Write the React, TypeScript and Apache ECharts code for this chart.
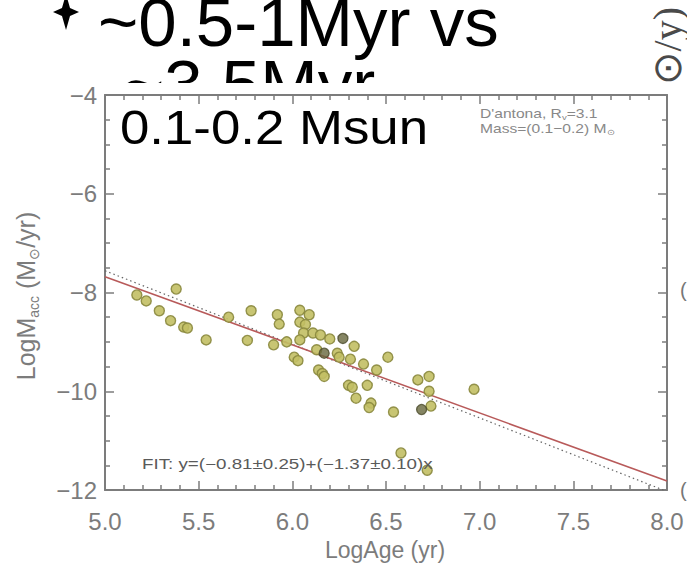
import React, { useEffect, useRef } from 'react';
import * as echarts from 'echarts';

// ---- data ----
const logAge = [5.17, 5.22, 5.38, 5.29, 5.35, 5.42, 5.44, 5.54, 5.66, 5.78, 5.76, 5.92, 5.93, 5.90, 5.97, 6.04, 6.09, 6.04, 6.07, 6.06, 6.11, 6.15, 6.04, 6.20, 6.33, 6.13, 6.24, 6.25, 6.31, 6.38, 6.45, 6.01, 6.03, 6.14, 6.16, 6.17, 6.30, 6.32, 6.40, 6.34, 6.42, 6.41, 6.51, 6.54, 6.67, 6.73, 6.73, 6.74, 6.97, 6.72, 6.58];
const logMacc = [-8.05, -8.17, -7.93, -8.37, -8.57, -8.70, -8.72, -8.96, -8.50, -8.37, -8.97, -8.45, -8.64, -9.06, -9.00, -8.36, -8.45, -8.60, -8.65, -8.82, -8.82, -8.86, -8.96, -8.94, -9.09, -9.16, -9.23, -9.31, -9.35, -9.45, -9.57, -9.31, -9.38, -9.57, -9.64, -9.70, -9.88, -9.92, -9.88, -10.14, -10.24, -10.33, -9.31, -10.42, -9.77, -9.70, -10.00, -10.30, -9.96, -11.60, -11.25];
const darkAge = [6.27, 6.17, 6.69];
const darkMacc = [-8.93, -9.23, -10.37];
const fitX = [5.0, 8.0];
const fitY = [-7.68, -11.82];
const refX = [5.0, 8.0];
const refY = [-7.56, -12.03];
const xTickLabels = ['5.0', '5.5', '6.0', '6.5', '7.0', '7.5', '8.0'];
const yTickLabels = ['−12', '−10', '−8', '−6', '−4'];

const AXIS = '#7c7c7c';
const LABEL_FONT = 'Liberation Sans, Arial, sans-serif';

export default function App() {
  const ref = useRef<HTMLDivElement>(null);
  useEffect(() => {
    if (!ref.current) return;
    const chart = echarts.init(ref.current, undefined, { renderer: 'svg' });
    const pts = logAge.map((x, i) => [x, logMacc[i]]);
    const dark = darkAge.map((x, i) => [x, darkMacc[i]]);
    const fit = fitX.map((x, i) => [x, fitY[i]]);
    const refl = refX.map((x, i) => [x, refY[i]]);
    const xLabel = (v: number) => {
      const i = Math.round((v - 5) / 0.5);
      return xTickLabels[i] ?? '';
    };
    const yLabel = (v: number) => {
      const i = Math.round((v + 12) / 2);
      return yTickLabels[i] ?? '';
    };
    const common = {
      axisLine: { show: true, onZero: false, lineStyle: { color: AXIS, width: 2 } },
      splitLine: { show: false },
    };
    const tick = { show: true, inside: true, length: 9, lineStyle: { color: AXIS, width: 1.5 } };
    chart.setOption({
      animation: false,
      backgroundColor: '#ffffff',
      grid: { left: 105, right: 20, top: 95, bottom: 74, containLabel: false, outerBoundsMode: 'none' },
      xAxis: [
        {
          ...common,
          type: 'value', min: 5, max: 8, interval: 0.5, position: 'bottom',
          axisTick: tick,
          minorTick: { show: true, splitNumber: 5, length: 5, lineStyle: { color: AXIS, width: 1.5 } },
          axisLabel: { formatter: xLabel, color: AXIS, fontSize: 24, fontFamily: LABEL_FONT, margin: 19, showMinLabel: true, showMaxLabel: true, hideOverlap: false },
        },
        {
          ...common,
          type: 'value', min: 5, max: 8, interval: 0.5, position: 'top',
          axisTick: tick,
          minorTick: { show: true, splitNumber: 5, length: 5, lineStyle: { color: AXIS, width: 1.5 } },
          axisLabel: { show: false },
        },
      ],
      yAxis: [
        {
          ...common,
          type: 'value', min: -12, max: -4, interval: 2, position: 'left',
          axisTick: tick,
          minorTick: { show: true, splitNumber: 4, length: 5, lineStyle: { color: AXIS, width: 1.5 } },
          axisLabel: { formatter: yLabel, color: AXIS, fontSize: 24, fontFamily: LABEL_FONT, margin: 8, showMinLabel: true, showMaxLabel: true, hideOverlap: false },
        },
        {
          ...common,
          type: 'value', min: -12, max: -4, interval: 2, position: 'right',
          axisTick: tick,
          minorTick: { show: true, splitNumber: 4, length: 5, lineStyle: { color: AXIS, width: 1.5 } },
          axisLabel: { show: false },
        },
      ],
      series: [
        {
          type: 'line', data: refl, symbol: 'none', silent: true,
          lineStyle: { color: '#666', width: 1.2, type: [1.5, 3] }, z: 3,
        },
        {
          type: 'line', data: fit, symbol: 'none', silent: true,
          lineStyle: { color: '#b85a5a', width: 1.6 }, z: 3,
        },
        {
          type: 'scatter', data: pts, symbol: 'circle', symbolSize: 10, silent: true,
          itemStyle: { color: '#c2bf64', borderColor: '#8a883e', borderWidth: 1.4, opacity: 0.9 }, z: 4,
        },
        {
          type: 'scatter', data: dark, symbol: 'circle', symbolSize: 10, silent: true,
          itemStyle: { color: '#66663c', borderColor: '#4a4a2a', borderWidth: 1.3 }, z: 4,
        },
      ],
      graphic: [
        // slide text behind the plot image
        {
          type: 'polygon', z: -20,
          shape: { points: [[66, -6], [70, 8], [79, 12], [70, 16], [66, 30], [62, 16], [53, 12], [62, 8]] },
          style: { fill: '#000' },
        },
        {
          type: 'text', z: -20, x: 98, y: 22,
          style: { text: '~0.5-1Myr vs', x: 0, y: 0, align: 'left', verticalAlign: 'middle', fill: '#000', fontSize: 69, fontFamily: LABEL_FONT },
        },
        {
          type: 'text', z: -20, x: 124, y: 84,
          style: { text: '~3.5Myr', x: 0, y: 0, align: 'left', verticalAlign: 'middle', fill: '#000', fontSize: 69, fontFamily: LABEL_FONT },
        },
        {
          type: 'text', z: -20, x: 667, y: 7, rotation: Math.PI / 2,
          style: { text: '(M⊙/y)', x: 0, y: 0, align: 'right', verticalAlign: 'middle', fill: '#4a4a4a', fontSize: 40, fontFamily: 'Liberation Serif, serif' },
        },
        // the plot image (white panel)
        {
          type: 'rect', z: -10,
          shape: { x: 0, y: 83, width: 687, height: 481 },
          style: { fill: '#ffffff' },
        },
        // fragments of the neighbouring panel at the right edge
        {
          type: 'text', z: -5, x: 680, y: 290,
          style: { text: '(', align: 'left', verticalAlign: 'middle', fill: '#777', fontSize: 20, fontFamily: LABEL_FONT },
        },
        {
          type: 'text', z: -5, x: 680, y: 490,
          style: { text: '(', align: 'left', verticalAlign: 'middle', fill: '#777', fontSize: 20, fontFamily: LABEL_FONT },
        },
        // overlay title
        {
          type: 'text', z: 20, x: 120, y: 127, scaleX: 1.1,
          style: { text: '0.1-0.2 Msun', x: 0, y: 0, align: 'left', verticalAlign: 'middle', fill: '#000', fontSize: 48, fontFamily: LABEL_FONT },
        },
        // in-plot annotations
        {
          type: 'text', z: 20, x: 480, y: 113, scaleX: 1.2,
          style: {
            text: "{a|D'antona, R}{s|v}{a|=3.1}", x: 0, y: 0, align: 'left', verticalAlign: 'middle',
            rich: {
              a: { fontSize: 13, fill: '#888', fontFamily: LABEL_FONT, lineHeight: 16 },
              s: { fontSize: 8, fill: '#888', fontFamily: LABEL_FONT, verticalAlign: 'bottom', lineHeight: 8 },
            },
          },
        },
        {
          type: 'text', z: 20, x: 480, y: 128, scaleX: 1.2,
          style: {
            text: '{a|Mass=(0.1−0.2) M}{s|⊙}', x: 0, y: 0, align: 'left', verticalAlign: 'middle',
            rich: {
              a: { fontSize: 13, fill: '#888', fontFamily: LABEL_FONT, lineHeight: 16 },
              s: { fontSize: 8, fill: '#888', fontFamily: LABEL_FONT, verticalAlign: 'bottom', lineHeight: 8 },
            },
          },
        },
        {
          type: 'text', z: 20, x: 142, y: 464, scaleX: 1.34,
          style: { text: 'FIT: y=(−0.81±0.25)+(−1.37±0.10)x', x: 0, y: 0, align: 'left', verticalAlign: 'middle', fill: '#5a5a5a', fontSize: 14, fontFamily: LABEL_FONT },
        },
        // axis titles
        {
          type: 'text', z: 20, x: 385, y: 550,
          style: { text: 'LogAge (yr)', x: 0, y: 0, align: 'center', verticalAlign: 'middle', fill: AXIS, fontSize: 23, fontFamily: LABEL_FONT },
        },
        {
          type: 'text', z: 20, x: 26, y: 296, rotation: Math.PI / 2,
          style: {
            text: '{a|LogM}{s|acc}{a| (M}{s|⊙}{a|/yr)}', x: 0, y: 0, align: 'center', verticalAlign: 'middle',
            rich: {
              a: { fontSize: 25, fill: AXIS, fontFamily: LABEL_FONT, lineHeight: 30 },
              s: { fontSize: 14, fill: AXIS, fontFamily: LABEL_FONT, verticalAlign: 'bottom', lineHeight: 14 },
            },
          },
        },
      ],
    });
    return () => chart.dispose();
  }, []);
  return (
    <div
      ref={ref}
      style={{ position: 'fixed', left: 0, top: 0, width: 687, height: 564 }}
    />
  );
}
